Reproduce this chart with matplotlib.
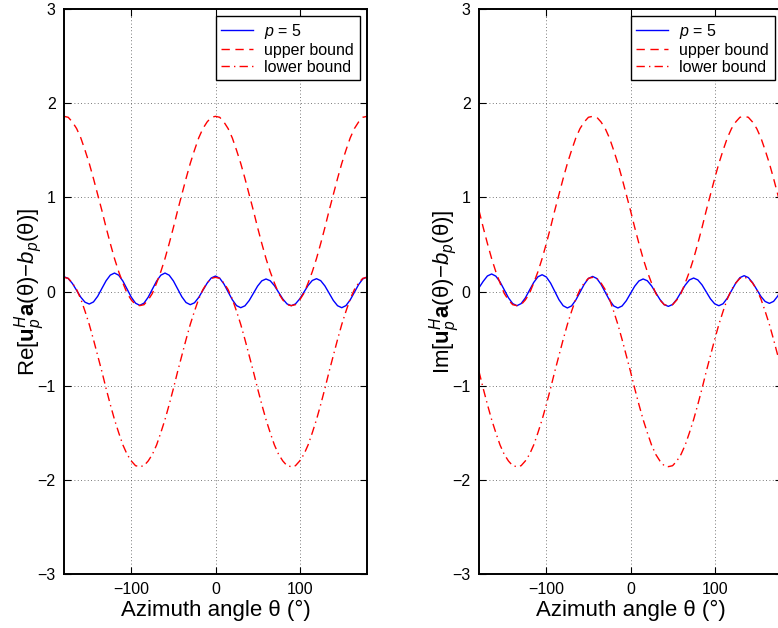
import numpy as np
import matplotlib.pyplot as plt

plt.rcParams['font.family'] = ['Liberation Sans', 'DejaVu Sans']
plt.rcParams['mathtext.fontset'] = 'custom'
plt.rcParams['mathtext.rm'] = 'Liberation Sans'
plt.rcParams['mathtext.it'] = 'Liberation Sans:italic'
plt.rcParams['mathtext.bf'] = 'Liberation Sans:bold'

# azimuth angle grid (deg), 5 degree steps from -180 to 180
theta = np.arange(-180, 181, 5)

# real part
re_p5 = [0.157, 0.138, 0.085, 0.012, -0.061, -0.114, -0.133, -0.111, -0.051, 0.032,
         0.114, 0.174, 0.196, 0.173, 0.110, 0.025, -0.061, -0.124, -0.147, -0.124,
         -0.061, 0.025, 0.110, 0.173, 0.196, 0.173, 0.112, 0.028, -0.056, -0.117,
         -0.140, -0.120, -0.064, 0.012, 0.088, 0.144, 0.164, 0.141, 0.080, -0.004,
         -0.088, -0.150, -0.172, -0.152, -0.096, -0.020, 0.057, 0.113, 0.133, 0.114,
         0.062, -0.009, -0.080, -0.132, -0.151, -0.132, -0.079, -0.008, 0.064, 0.117,
         0.136, 0.115, 0.059, -0.018, -0.095, -0.151, -0.172, -0.150, -0.090, -0.009,
         0.073, 0.133, 0.155]
re_upper = [1.86, 1.85, 1.80, 1.73, 1.63, 1.50, 1.36, 1.20, 1.03, 0.86, 0.68, 0.51, 0.35,
            0.21, 0.09, -0.02, -0.09, -0.14, -0.15,
            -0.14, -0.09, -0.02, 0.09, 0.21, 0.35, 0.51, 0.68, 0.86, 1.03, 1.20, 1.36,
            1.50, 1.63, 1.73, 1.80, 1.85, 1.86,
            1.85, 1.80, 1.73, 1.63, 1.50, 1.36, 1.20, 1.03, 0.86, 0.68, 0.51, 0.35,
            0.21, 0.09, -0.02, -0.09, -0.14, -0.15,
            -0.14, -0.09, -0.02, 0.09, 0.21, 0.35, 0.51, 0.68, 0.86, 1.03, 1.20, 1.36,
            1.50, 1.63, 1.73, 1.80, 1.85, 1.86]
re_lower = [0.15, 0.14, 0.09, 0.02, -0.08, -0.21, -0.35, -0.51, -0.68, -0.85, -1.03, -1.20,
            -1.36, -1.50, -1.63, -1.73, -1.80, -1.85, -1.86,
            -1.85, -1.80, -1.73, -1.63, -1.50, -1.36, -1.20, -1.03, -0.85, -0.68, -0.51,
            -0.35, -0.21, -0.08, 0.02, 0.09, 0.14, 0.15,
            0.14, 0.09, 0.02, -0.08, -0.21, -0.35, -0.51, -0.68, -0.85, -1.03, -1.20,
            -1.36, -1.50, -1.63, -1.73, -1.80, -1.85, -1.86,
            -1.85, -1.80, -1.73, -1.63, -1.50, -1.36, -1.20, -1.03, -0.85, -0.68, -0.51,
            -0.35, -0.21, -0.08, 0.02, 0.09, 0.14, 0.15]

# imaginary part
im_p5 = [0.040, 0.108, 0.165, 0.186, 0.163, 0.102, 0.018, -0.067, -0.128, -0.151,
         -0.129, -0.069, 0.014, 0.096, 0.156, 0.178, 0.154, 0.090, 0.002, -0.087,
         -0.151, -0.175, -0.153, -0.091, -0.008, 0.076, 0.138, 0.160, 0.138, 0.076,
         -0.008, -0.091, -0.153, -0.175, -0.154, -0.098, -0.021, 0.056, 0.112, 0.133,
         0.114, 0.060, -0.013, -0.085, -0.139, -0.158, -0.138, -0.083, -0.008, 0.068,
         0.123, 0.143, 0.123, 0.070, -0.004, -0.078, -0.131, -0.151, -0.130, -0.071,
         0.009, 0.088, 0.147, 0.168, 0.148, 0.094, 0.021, -0.053, -0.106, -0.126,
         -0.105, -0.048, 0.040]
im_upper = [0.86, 0.68, 0.51, 0.35, 0.21, 0.09, -0.02, -0.09, -0.14, -0.15,
            -0.14, -0.09, -0.02, 0.09, 0.21, 0.35, 0.51, 0.68, 0.86, 1.03, 1.20, 1.36,
            1.50, 1.63, 1.73, 1.80, 1.85, 1.86,
            1.85, 1.80, 1.73, 1.63, 1.50, 1.36, 1.20, 1.03, 0.86, 0.68, 0.51, 0.35,
            0.21, 0.09, -0.02, -0.09, -0.14, -0.15,
            -0.14, -0.09, -0.02, 0.09, 0.21, 0.35, 0.51, 0.68, 0.86, 1.03, 1.20, 1.36,
            1.50, 1.63, 1.73, 1.80, 1.85, 1.86,
            1.85, 1.80, 1.73, 1.63, 1.50, 1.36, 1.20, 1.03, 0.86]
im_lower = [-0.85, -1.03, -1.20, -1.36, -1.50, -1.63, -1.73, -1.80, -1.85, -1.86,
            -1.85, -1.80, -1.73, -1.63, -1.50, -1.36, -1.20, -1.03, -0.85, -0.68, -0.51,
            -0.35, -0.21, -0.08, 0.02, 0.09, 0.14, 0.15,
            0.14, 0.09, 0.02, -0.08, -0.21, -0.35, -0.51, -0.68, -0.85, -1.03, -1.20,
            -1.36, -1.50, -1.63, -1.73, -1.80, -1.85, -1.86,
            -1.85, -1.80, -1.73, -1.63, -1.50, -1.36, -1.20, -1.03, -0.85, -0.68, -0.51,
            -0.35, -0.21, -0.08, 0.02, 0.09, 0.14, 0.15,
            0.14, 0.09, 0.02, -0.08, -0.21, -0.35, -0.51, -0.68, -0.85]

labels = [r'$p$ = 5', 'upper bound', 'lower bound']
ylabels = [r'Re$[\mathbf{u}_p^H\mathbf{a}(\mathrm{\theta}){-}b_p(\mathrm{\theta})]$',
           r'Im$[\mathbf{u}_p^H\mathbf{a}(\mathrm{\theta}){-}b_p(\mathrm{\theta})]$']

fig = plt.figure(figsize=(7.78, 6.28), dpi=100)
ax1 = fig.add_axes([64 / 778, 54 / 628, 303 / 778, 565 / 628])
ax2 = fig.add_axes([479 / 778, 54 / 628, 303 / 778, 565 / 628])

for ax, p5, up, lo, yl in [(ax1, re_p5, re_upper, re_lower, ylabels[0]),
                           (ax2, im_p5, im_upper, im_lower, ylabels[1])]:
    ax.plot(theta, p5, color='#0000ff', lw=1.0, label=labels[0])
    ax.plot(theta, up, color='#ff0000', lw=1.0, ls=(0, (6, 4)), label=labels[1])
    ax.plot(theta, lo, color='#ff0000', lw=1.0, ls=(0, (6, 3, 1, 3)), label=labels[2])
    ax.set_xlim(-180, 180)
    ax.set_ylim(-3, 3)
    ax.set_xticks([-100, 0, 100])
    ax.set_yticks([-3, -2, -1, 0, 1, 2, 3])
    ax.grid(True, color='0.3', lw=0.6, ls=(0, (1, 3)))
    ax.tick_params(direction='in', length=5, width=0.8, top=True, right=True,
                   labelsize=11.5, pad=6)
    for s in ax.spines.values():
        s.set_linewidth(1.4)
    ax.set_xlabel('Azimuth angle θ (°)', fontsize=16, labelpad=2)
    ax.set_ylabel(yl, fontsize=16, labelpad=-7)
    leg = ax.legend(loc='upper right', fontsize=11.5, handlelength=2.0,
                    labelspacing=0.12, borderpad=0.35, handletextpad=0.7,
                    borderaxespad=0.45, fancybox=False, framealpha=1)
    leg.get_frame().set_edgecolor('black')
    leg.get_frame().set_linewidth(1.0)

fig.savefig('out.png', dpi=100)
